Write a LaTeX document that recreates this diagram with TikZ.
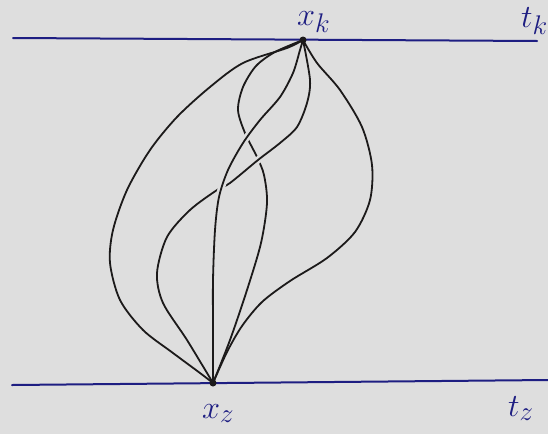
\documentclass[tikz,border=0pt]{standalone}
\usepackage{graphicx}
\usepackage{tikz}
\definecolor{bgc}{RGB}{222,222,222}
\definecolor{ink}{RGB}{28,26,26}
\definecolor{pen}{RGB}{30,30,130}
\tikzset{
  wire/.style={draw=ink, line width=1.8pt, line cap=round, line join=round},
  halo/.style={draw=bgc, line width=7pt},
  level/.style={draw=pen, line width=2pt, line cap=round},
  lab/.style={text=pen, font=\Huge, inner sep=0pt},
  endpt/.style={fill=ink, circle, inner sep=0pt, minimum size=7pt}
}
\newcommand\biglab[1]{\scalebox{1.3}{$#1$}}
\newcommand\curveone[1]{\draw[#1] plot[smooth] coordinates {(303,40) (287,48) (243,63) (210,87) (177,117) (150,150) (127,190) (113,230) (110,263) (120,300) (143,330) (173,353) (200,373) (213,383)};}
\newcommand\curvetwo[1]{\draw[#1] plot[smooth] coordinates {(303,40) (317,63) (340,90) (362,127) (372,165) (370,200) (355,232) (327,258) (290,281) (262,302) (242,326) (227,352) (213,383)};}
\newcommand\curvethree[1]{\draw[#1] plot[smooth] coordinates {(303,40) (275,52) (256,66) (243,87) (238,110) (245,133) (257,157) (264,175) (267,203) (261,243) (247,290) (230,340) (213,383)};}
\newcommand\curvefour[1]{\draw[#1] plot[smooth] coordinates {(303,40) (300,50) (293,73) (280,97) (260,120) (243,143) (228,170) (219,197) (215,230) (213,280) (213,330) (213,383)};}
\newcommand\curvefive[1]{\draw[#1] plot[smooth] coordinates {(303,40) (310,80) (307,103) (297,127) (280,143) (258,160) (230,183) (217,190) (190,210) (167,237) (157,273) (163,303) (187,340) (213,383)};}
\begin{document}
\begin{tikzpicture}[x=1pt, y=-1pt]
\useasboundingbox (0,0) rectangle (548,434);
\fill[bgc] (0,0) rectangle (548,434);
% levels
\coordinate (tkL) at (13,38);
\coordinate (tkR) at (537,41);
\coordinate (tzL) at (12,385);
\coordinate (tzR) at (548,380);
\draw[level] (tkL) -- (tkR);
\draw[level] (tzL) -- (tzR);
% outer curves
\curveone{wire}
\curvetwo{wire}
% curve three (under everything)
\curvethree{wire}
% curve five, over three
\begin{scope}
  \clip (259,161) circle (9pt);
  \curvefive{halo}
\end{scope}
\curvefive{wire}
% curve four, over three and five
\begin{scope}
  \clip (249,139) circle (9pt);
  \curvefour{halo}
\end{scope}
\begin{scope}
  \clip (223,186) circle (9pt);
  \curvefour{halo}
\end{scope}
\curvefour{wire}
% end points
\node[endpt] (xk) at (303,40) {};
\node[endpt] (xz) at (213,383) {};
% labels
\node[lab, anchor=base west] (lxk) at (297,25) {\biglab{x_k}};
\node[lab, anchor=base west] (ltk) at (521,27) {\biglab{t_k}};
\node[lab, anchor=base west] (lxz) at (202,418) {\biglab{x_z}};
\node[lab, anchor=base west] (ltz) at (508,416) {\biglab{t_z}};
\end{tikzpicture}
\end{document}
